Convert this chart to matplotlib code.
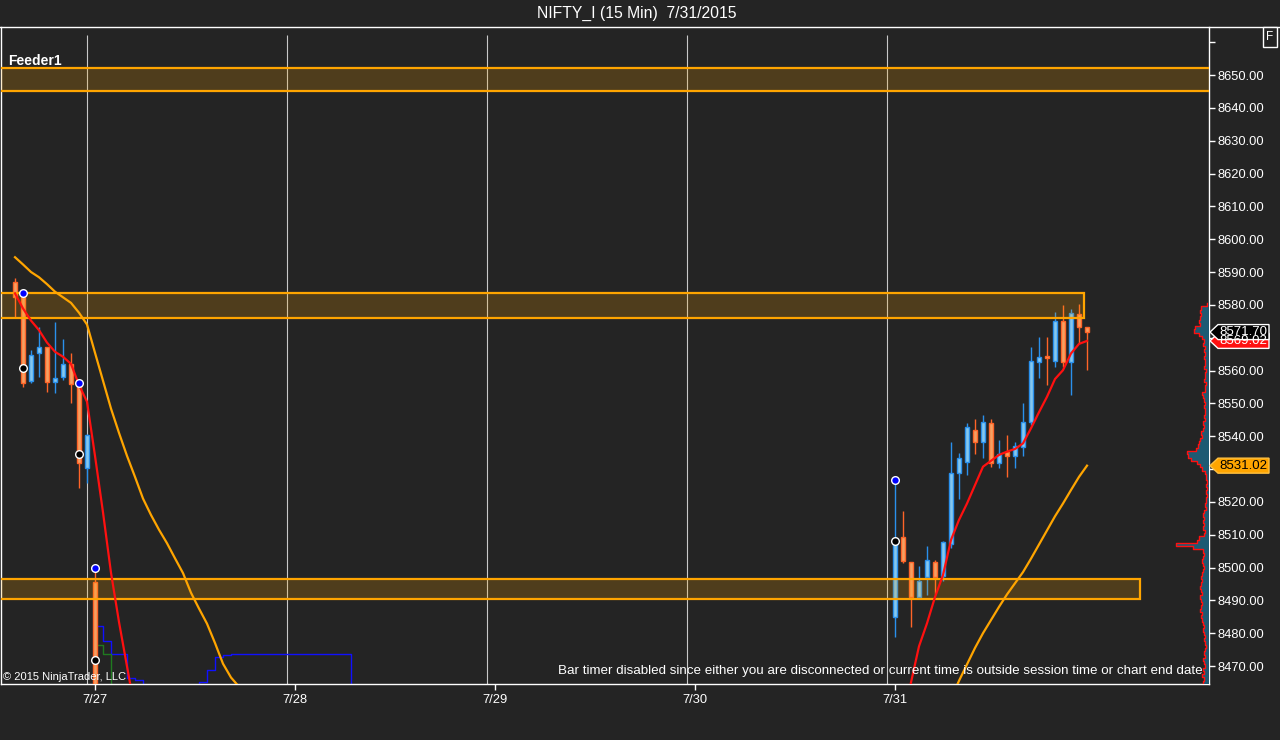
import matplotlib.pyplot as plt
import numpy as np
from matplotlib.patches import Rectangle, Polygon
from matplotlib.lines import Line2D

plt.rcParams["font.family"] = ["Liberation Sans", "DejaVu Sans"]

BG = "#242424"
W, H = 1280, 740

# bar index: 0 = first 15 min bar of 7/27, 25 bars per session
bar_idx = [-10, -9, -8, -7, -6, -5, -4, -3, -2, -1, 0,
           100, 101, 102, 103, 104, 105, 106, 107, 108, 109, 110, 111, 112,
           113, 114, 115, 116, 117, 118, 119, 120, 121, 122, 123, 124]
opens = [8587.0, 8582.5, 8556.9, 8565.2, 8567.1, 8556.6, 8558.1, 8561.9, 8555.6, 8530.2, 8495.5,
         8485.0, 8509.2, 8501.8, 8491.1, 8497.2, 8501.6, 8497.5, 8507.1, 8528.7, 8532.2, 8541.8, 8538.3, 8543.9,
         8531.7, 8535.1, 8534.1, 8536.8, 8544.4, 8562.5, 8564.5, 8563.0, 8575.2, 8562.7, 8577.2, 8573.4]
highs = [8588.1, 8583.5, 8566.2, 8573.1, 8567.1, 8574.9, 8569.6, 8565.4, 8556.1, 8540.8, 8499.8,
         8526.6, 8517.2, 8501.8, 8500.5, 8506.6, 8502.3, 8508.0, 8538.1, 8534.8, 8543.9, 8545.2, 8546.4, 8545.2,
         8538.8, 8540.4, 8538.1, 8550.0, 8567.1, 8570.1, 8570.1, 8577.9, 8580.0, 8578.7, 8580.3, 8573.4]
lows = [8576.4, 8555.1, 8556.3, 8557.9, 8553.5, 8553.2, 8557.1, 8550.2, 8524.1, 8525.6, 8430.0,
        8478.8, 8501.3, 8481.8, 8491.0, 8491.6, 8491.9, 8496.0, 8505.9, 8520.9, 8528.2, 8534.6, 8533.2, 8530.7,
        8530.2, 8527.5, 8530.2, 8534.1, 8543.4, 8557.6, 8555.6, 8561.2, 8561.2, 8552.5, 8568.3, 8560.2]
closes = [8582.3, 8556.1, 8564.6, 8567.1, 8556.6, 8557.6, 8561.9, 8555.8, 8531.7, 8540.3, 8440.0,
          8509.1, 8502.1, 8491.0, 8495.9, 8502.3, 8497.2, 8507.7, 8528.7, 8533.2, 8542.7, 8538.3, 8544.2, 8531.7,
          8534.6, 8534.1, 8537.1, 8544.4, 8563.0, 8564.2, 8563.7, 8575.2, 8562.7, 8577.6, 8573.2, 8571.7]

# fast average (red)
fast_idx = [-10, -9, -8, -7, -6, -5, -4, -3, -2, -1, 0, 1, 2, 3, 4, 5, None,
            100, 101, 102, 103, 104, 105, 106, 107, 108, 109, 110, 111, 112,
            113, 114, 115, 116, 117, 118, 119, 120, 121, 122, 123, 124]
fast_vals = [8583.5, 8578.9, 8575.2, 8572.3, 8568.5, 8565.7, 8564.2, 8562.0, 8555.6, 8550.5,
             8534.0, 8516.8, 8498.4, 8483.4, 8469.9, 8456.4, None,
             8440.0, 8452.0, 8465.0, 8476.0, 8483.0, 8491.0, 8497.7, 8508.4, 8514.5, 8519.5, 8525.1,
             8530.7, 8532.5, 8534.3, 8535.3, 8536.1, 8537.8, 8542.4, 8547.3, 8552.0, 8557.4, 8560.1,
             8565.2, 8568.1, 8569.02]

# slow average (orange)
slow_idx = [-10, -9, -8, -7, -6, -5, -4, -3, -2, -1, 0, 1, 2, 3, 4, 5, 6, 7, 8, 9,
            10, 11, 12, 13, 14, 15, 16, 17, 18, 19, None,
            105, 106, 107, 108, 109, 110, 111, 112, 113, 114, 115, 116, 117, 118, 119,
            120, 121, 122, 123, 124]
slow_vals = [8594.5, 8592.3, 8590.0, 8588.4, 8586.3, 8584.0, 8582.3, 8580.6, 8577.6, 8574.0,
             8565.4, 8556.9, 8548.4, 8541.0, 8534.0, 8527.6, 8521.0, 8516.0, 8511.5, 8507.4,
             8502.8, 8498.3, 8492.3, 8487.5, 8482.9, 8477.0, 8470.7, 8466.5, 8463.7, 8460.5, None,
             8450.0, 8455.0, 8460.0, 8465.5, 8470.5, 8475.5, 8480.0, 8484.0, 8488.0, 8491.8,
             8495.2, 8498.6, 8502.7, 8507.0, 8511.3, 8515.6, 8519.5, 8523.6, 8527.6, 8531.02]

swing_idx = [-9, -2, 0, 100]
swing_high = [8583.5, 8556.1, 8499.8, 8526.6]
swing_low = [8560.7, 8534.5, 8471.8, 8508.1]

# stepped lines near the bottom
step1_x = [0.4, 1, 2, 4, 5, 6]
step1_y = [8482.3, 8477.6, 8473.8, 8466.4, 8465.7, 8460.0]
step2_x = [0.4, 1, 2]
step2_y = [8476.3, 8473.8, 8460.0]
step3_x = [13, 13, 14, 15, 16, 17, 32]
step3_y = [8460.0, 8465.2, 8468.8, 8472.6, 8473.3, 8473.6, 8460.0]

zone_low = [8645.2, 8576.0, 8490.4]
zone_high = [8652.2, 8583.6, 8496.4]
zone_end = [145, 123.6, 130.6]

day_ticks = [0, 25, 50, 75, 100]
day_labels = ["7/27", "7/28", "7/29", "7/30", "7/31"]
session_breaks = [-1, 24, 49, 74, 99]

price_ticks = [8470, 8480, 8490, 8500, 8510, 8520, 8530, 8540, 8550, 8560,
               8570, 8580, 8590, 8600, 8610, 8620, 8630, 8640, 8650, 8660]
# labels hidden under the price tags in the chart
hidden_ticks = [8530, 8570, 8660]

# volume profile, one value per point from 8580 downward
profile_vol = [2, 8, 9, 8, 9, 10, 9, 14, 15, 10, 7, 5, 6, 4, 5, 4, 5, 4, 4, 5,
               3, 4, 4, 5, 3, 4, 4, 7, 6, 5, 4, 5, 4, 4, 5, 4, 6, 5, 6, 8,
               7, 9, 10, 11, 13, 22, 21, 18, 12, 9, 7, 4, 3, 3, 2, 3, 2, 3, 2, 3,
               3, 4, 3, 5, 6, 5, 6, 5, 6, 4, 5, 10, 12, 33, 16, 6, 5, 6, 7, 6,
               5, 6, 7, 8, 7, 8, 9, 8, 7, 9, 8, 7, 8, 9, 7, 8, 7, 6, 5, 6,
               5, 4, 5, 4, 3, 4, 5, 4, 6, 5, 4, 6, 5, 7, 5, 6]

YMIN, YMAX = 8464.52, 8664.62
XMIN, XMAX = -11.75, 139.25

fig = plt.figure(figsize=(W / 100, H / 100), dpi=100, facecolor=BG)
ax = fig.add_axes([1 / W, 56 / H, 1208 / W, 657 / H], facecolor=BG)
ax.set_xlim(XMIN, XMAX)
ax.set_ylim(YMIN, YMAX)

ax.vlines(session_breaks, YMIN, 8662.2, colors="#c8c8c8", lw=0.8, zorder=1)

o = np.array(opens)
c = np.array(closes)
up = c >= o
face = np.where(up, "#86c8ee", "#f5a062")
edge = np.where(up, "#2a90ec", "#ff6428")
ax.vlines(bar_idx, lows, highs, colors=edge, lw=1, zorder=2)
ax.bar(bar_idx, np.abs(c - o), bottom=np.minimum(o, c), width=0.6,
       color=face, edgecolor=edge, linewidth=1, zorder=3)

for lo, hi, end in zip(zone_low, zone_high, zone_end):
    ax.add_patch(Rectangle((XMIN - 1, lo), end - XMIN + 1, hi - lo,
                           facecolor=(1, 0.65, 0, 0.2), edgecolor="#ffa500",
                           lw=1.6, zorder=4))

ax.step(step1_x, step1_y, where="post", color="#1010ff", lw=1, zorder=2)
ax.step(step2_x, step2_y, where="post", color="#1f7a1f", lw=1, zorder=2)
ax.step(step3_x, step3_y, where="post", color="#1010ff", lw=1, zorder=2)

fx = [np.nan if v is None else v for v in fast_idx]
fy = [np.nan if v is None else v for v in fast_vals]
sx = [np.nan if v is None else v for v in slow_idx]
sy = [np.nan if v is None else v for v in slow_vals]
ax.plot(sx, sy, color="#ffa500", lw=1.6, zorder=5)
ax.plot(fx, fy, color="#ff1010", lw=1.6, zorder=5)

ax.plot(swing_idx, swing_high, "o", ms=5.5, mfc="#0000ff", mec="white", mew=1, zorder=6)
ax.plot(swing_idx, swing_low, "o", ms=5.5, mfc="black", mec="white", mew=1, zorder=6)

for side in ["left", "bottom", "right"]:
    ax.spines[side].set_color("white")
    ax.spines[side].set_linewidth(1)
ax.spines["top"].set_visible(False)

ax.yaxis.tick_right()
ax.set_yticks(price_ticks,
              ["" if p in hidden_ticks else f"{p:.2f}" for p in price_ticks])
ax.tick_params(axis="y", colors="white", labelsize=9.3, length=4, width=1, pad=2)
ax.set_xticks(day_ticks, day_labels)
ax.tick_params(axis="x", colors="white", labelsize=9.3, length=4, width=1, pad=3)

ax.text(7 / 1208, 0.948, "Feeder1", color="white", fontsize=10, fontweight="bold",
        ha="left", va="center", transform=ax.transAxes)
ax.text(2 / 1208, 0.0107, "\u00a9 2015 NinjaTrader, LLC", color="white", fontsize=8,
        ha="left", va="center", transform=ax.transAxes, zorder=7)
ax.text(0.995, 0.0198,
        "Bar timer disabled since either you are disconnected or current time "
        "is outside session time or chart end date",
        color="white", fontsize=9.6, ha="right", va="center",
        transform=ax.transAxes, zorder=7)

# volume profile on the price axis
pax = fig.add_axes([1139 / W, 56 / H, 70 / W, 657 / H])
pax.set_xlim(70, 0)
pax.set_ylim(YMIN, YMAX)
pax.axis("off")
pax.patch.set_alpha(0)
vol = np.array(profile_vol, dtype=float)
levels = 8580 - np.arange(len(vol))
py = np.repeat(levels, 2) + np.tile([0.5, -0.5], len(vol))
px = np.repeat(vol, 2)
pax.fill_betweenx(py, 0, px, color="#1d5a73", lw=0)
pax.plot(px, py, color="#ff1010", lw=1)

fig.add_artist(Line2D([0, 1], [1 - 27 / H] * 2, color="white", lw=1))
fig.text(637 / W, 1 - 13 / H, "NIFTY_I (15 Min)  7/31/2015", color="white",
         fontsize=11.3, ha="center", va="center")
fig.text(1270 / W, 1 - 37 / H, "F", color="white", fontsize=8.5, ha="center", va="center",
         bbox=dict(boxstyle="square,pad=0.3", fc=BG, ec="white", lw=1))


def price_tag(price, label, fc, ec, tc):
    yf = ax.transData.transform((0, price))[1] / fig.bbox.height
    tip = 1210 / W
    x1 = 1218 / W
    x2 = 1269 / W
    h = 7.5 / H
    fig.add_artist(Polygon([(tip, yf), (x1, yf + h), (x2, yf + h), (x2, yf - h), (x1, yf - h)],
                           closed=True, fc=fc, ec=ec, lw=1, transform=fig.transFigure))
    fig.text((x1 + x2) / 2, yf, label, color=tc, fontsize=9.5, ha="center", va="center")


price_tag(slow_vals[-1], f"{slow_vals[-1]:.2f}", "#ffa500", "#ffc040", "black")
price_tag(fast_vals[-1], f"{fast_vals[-1]:.2f}", "#ff1010", "white", "white")
price_tag(closes[-1], f"{closes[-1]:.2f}", "black", "white", "white")

fig.savefig("out.png", dpi=100, facecolor=BG)
plt.close(fig)
